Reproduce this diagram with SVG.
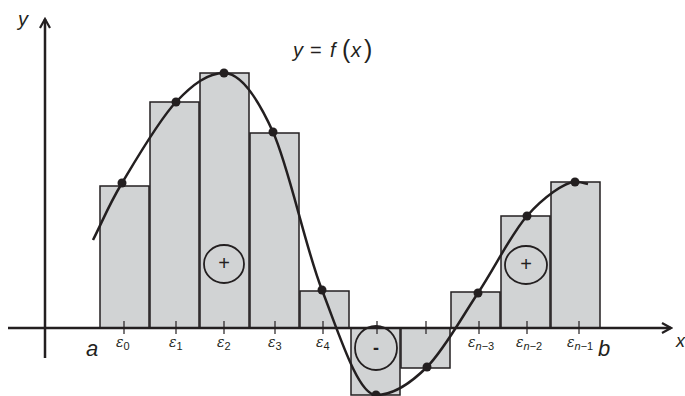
<svg xmlns="http://www.w3.org/2000/svg" width="685" height="396" viewBox="0 0 685 396">
<style>
.bar{fill:#d1d3d4;stroke:#231f20;stroke-width:1.5}
.ax{stroke:#231f20;stroke-width:2.5;fill:none}
.tk{stroke:#231f20;stroke-width:1.2}
.t{font-family:"Liberation Sans",Arial,sans-serif;fill:#231f20}
.it{font-style:italic}
.eps{font-family:"DejaVu Serif","Liberation Serif",serif;font-style:italic;font-size:14px;fill:#231f20}
.sub{font-family:"Liberation Sans",Arial,sans-serif;font-size:11px}
.dot{fill:#231f20}
.ell{fill:none;stroke:#231f20;stroke-width:1.8}
</style>
<defs>
<marker id="arr" viewBox="0 0 12 12" refX="10" refY="6" markerWidth="12" markerHeight="12" markerUnits="userSpaceOnUse" orient="auto">
<path d="M1,1 L10,6 L1,11" fill="none" stroke="#231f20" stroke-width="2.2"/>
</marker>
</defs>
<g id="bars">
<rect class="bar" x="100" y="186" width="49" height="142"/>
<rect class="bar" x="150" y="102" width="49" height="226"/>
<rect class="bar" x="200" y="73" width="49" height="255"/>
<rect class="bar" x="250" y="133" width="49" height="195"/>
<rect class="bar" x="300" y="291" width="49" height="37"/>
<rect class="bar" x="351" y="328" width="49" height="67"/>
<rect class="bar" x="401" y="328" width="49" height="40"/>
<rect class="bar" x="451" y="292" width="49" height="36"/>
<rect class="bar" x="501" y="216" width="49" height="112"/>
<rect class="bar" x="551" y="182" width="49" height="146"/>
</g>
<g id="axes">
<line class="ax" x1="45" y1="358" x2="45" y2="19" marker-end="url(#arr)"/>
<line class="ax" x1="8" y1="328" x2="671" y2="328" marker-end="url(#arr)"/>
</g>
<g id="ticks">
<line class="tk" x1="124" y1="321" x2="124" y2="334"/>
<line class="tk" x1="176" y1="321" x2="176" y2="334"/>
<line class="tk" x1="224" y1="321" x2="224" y2="334"/>
<line class="tk" x1="275" y1="321" x2="275" y2="334"/>
<line class="tk" x1="323" y1="321" x2="323" y2="334"/>
<line class="tk" x1="377" y1="321" x2="377" y2="334"/>
<line class="tk" x1="426" y1="321" x2="426" y2="334"/>
<line class="tk" x1="479" y1="321" x2="479" y2="334"/>
<line class="tk" x1="527" y1="321" x2="527" y2="334"/>
<line class="tk" x1="579" y1="321" x2="579" y2="334"/>
</g>
<g id="curve">
<path fill="none" stroke="#231f20" stroke-width="2.5" d="M93,240 C102.7,221 108.2,206 122,183 C135.8,160 159,120 176,102 C193,84 208,73 224,73 C240,73 256.7,96 273,132 C289.3,168 304.8,246 322,290 C339.2,334 358,395 376,395 C393,395 410,384 427,367 C444,350 461.3,318 478,293 C494.7,268 510.8,234.5 527,216 C543.2,197.5 564.8,182 575,182 C580,181.5 584,183 588,184"/>
<circle class="dot" cx="122" cy="183" r="4.5"/>
<circle class="dot" cx="176" cy="102" r="4.5"/>
<circle class="dot" cx="224" cy="73" r="4.5"/>
<circle class="dot" cx="273" cy="132" r="4.5"/>
<circle class="dot" cx="322" cy="290" r="4.5"/>
<circle class="dot" cx="376" cy="395" r="4.5"/>
<circle class="dot" cx="427" cy="367" r="4.5"/>
<circle class="dot" cx="478" cy="293" r="4.5"/>
<circle class="dot" cx="527" cy="216" r="4.5"/>
<circle class="dot" cx="575" cy="182" r="4.5"/>
</g>
<g id="signs">
<ellipse class="ell" cx="224" cy="264" rx="20" ry="19"/>
<text class="t" x="224" y="270" font-size="20" font-weight="300" text-anchor="middle">+</text>
<ellipse class="ell" cx="376" cy="348" rx="21" ry="22"/>
<text class="t" x="376" y="354" font-size="18" text-anchor="middle" font-weight="bold">-</text>
<ellipse class="ell" cx="526" cy="265" rx="21" ry="19"/>
<text class="t" x="526" y="271" font-size="20" font-weight="300" text-anchor="middle">+</text>
</g>
<g id="labels">
<text class="t it" x="18" y="26" font-size="20">y</text>
<text class="t it" x="676" y="347" font-size="18">x</text>
<text class="t" y="57" font-size="20"><tspan class="it" x="293">y</tspan><tspan x="310">=</tspan><tspan class="it" x="330">f</tspan><tspan x="342" font-size="25" dy="1">(</tspan><tspan class="it" x="351" dy="-1">x</tspan><tspan x="364" font-size="25" dy="1">)</tspan></text>
<text class="t it" x="86" y="356" font-size="22">a</text>
<text class="t it" x="598" y="356" font-size="22">b</text>
<text class="eps" x="116" y="347">ε<tspan class="sub" font-style="normal" dy="3">0</tspan></text>
<text class="eps" x="169" y="347">ε<tspan class="sub" font-style="normal" dy="3">1</tspan></text>
<text class="eps" x="217" y="347">ε<tspan class="sub" font-style="normal" dy="3">2</tspan></text>
<text class="eps" x="268" y="347">ε<tspan class="sub" font-style="normal" dy="3">3</tspan></text>
<text class="eps" x="316" y="347">ε<tspan class="sub" font-style="normal" dy="3">4</tspan></text>
<text class="eps" x="468" y="347">ε<tspan class="sub" dy="3">n</tspan><tspan class="sub" font-style="normal">−3</tspan></text>
<text class="eps" x="516" y="347">ε<tspan class="sub" dy="3">n</tspan><tspan class="sub" font-style="normal">−2</tspan></text>
<text class="eps" x="567" y="347">ε<tspan class="sub" dy="3">n</tspan><tspan class="sub" font-style="normal">−1</tspan></text>
</g>
</svg>
